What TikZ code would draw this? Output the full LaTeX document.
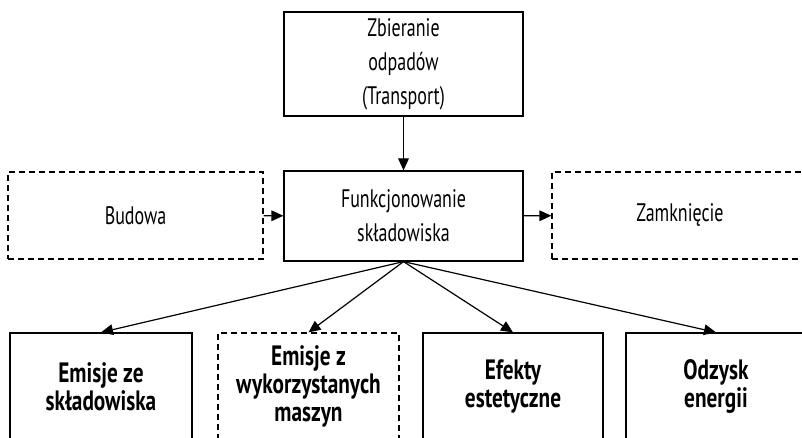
\documentclass[tikz,border=0pt]{standalone}
\usepackage{fontspec}
\setmainfont{PT Sans}[FakeStretch=0.71, BoldFeatures={FakeStretch=0.76}]
\usetikzlibrary{arrows.meta}

\begin{document}
\begin{tikzpicture}[x=0.75pt, y=-0.75pt, line width=0.9pt,
    every node/.style={draw, rectangle, align=center, inner sep=0pt, font=\fontsize{19}{25.5}\selectfont},
    dbox/.style={dash pattern=on 4.5pt off 3pt},
    bbox/.style={minimum height=80.25pt, font=\fontsize{21}{21}\selectfont\bfseries},
    arr/.style={-{Triangle[length=9pt, width=8pt]}}]

        \useasboundingbox (0,0) rectangle (802,438);
        \clip (0,0) rectangle (802,438);

        \node[minimum width=179.25pt, minimum height=78pt] (zbieranie) at (403.5, 64) {Zbieranie\\odpadów\\(Transport)};
        \node[minimum width=179.25pt, minimum height=67.5pt] (funkcj) at (403.5, 216) {Funkcjonowanie\\składowiska};
        \node[dbox, minimum width=191.25pt, minimum height=65.25pt] (budowa) at (135.5, 215.5) {Budowa};
        \node[dbox, minimum width=192pt, minimum height=65.25pt] (zamkn) at (680, 215.5) {Zamknięcie};

        % bottom row
        \node[bbox, minimum width=136.5pt] (e1) at (101, 386.5) {Emisje ze\\składowiska};
        \node[bbox, dbox, minimum width=135.75pt] (e2) at (308.5, 386.5) {Emisje z\\wykorzystanych\\maszyn};
        \node[bbox, minimum width=135pt] (e3) at (513, 386.5) {Efekty\\estetyczne};
        \node[bbox, minimum width=135pt] (e4) at (716, 386.5) {Odzysk\\energii};

        \draw[arr] (zbieranie) -- (funkcj);
        \draw[arr] (budowa) -- (funkcj);
        \draw[arr] (funkcj) -- (zamkn);

        \foreach \j in {1,...,4} {
          \draw[arr] (funkcj.south) -- (e\j.north);
        }

\end{tikzpicture}
\end{document}
